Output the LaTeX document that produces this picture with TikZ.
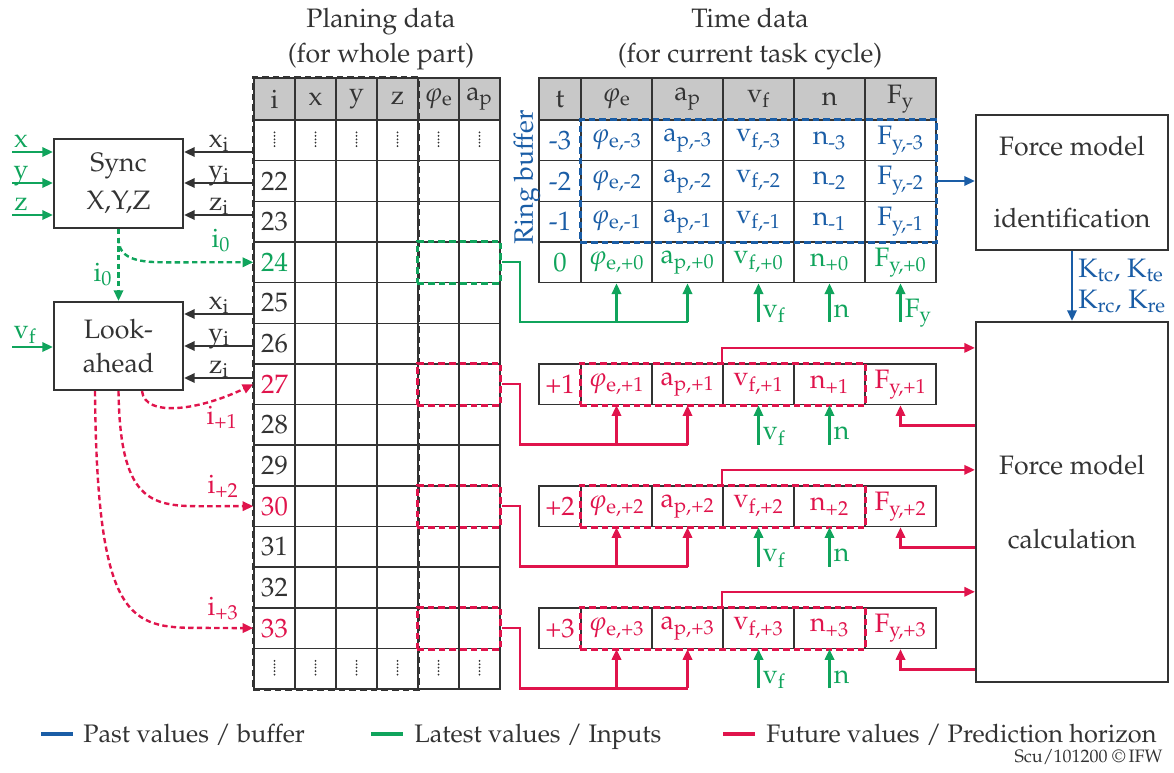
\documentclass[tikz,border=0pt]{standalone}
\usepackage[T1]{fontenc}
\usepackage{mathpazo}
\usepackage{amsmath}
\usetikzlibrary{arrows.meta,fit}

\definecolor{pblue}{HTML}{1A5DA6}
\definecolor{pgreen}{HTML}{10A45C}
\definecolor{pred}{HTML}{E0144C}
\definecolor{ink}{HTML}{333333}
\definecolor{headgray}{HTML}{C8C8C8}

\def\pxu{0.75pt}
% symbol with an upright text subscript
\newcommand\sx[2]{#1$_{\textrm{#2}}$}

\begin{document}
\begin{tikzpicture}[x=0.75pt,y=-0.75pt,color=ink,
  font=\fontsize{20}{26}\selectfont,
  cell/.style={draw=ink, line width=1.1pt, inner sep=0pt, minimum height={40.65*\pxu}},
  narrow/.style={cell, minimum width={41*\pxu}},
  wide/.style={cell, minimum width={71*\pxu}},
  tcol/.style={cell, minimum width={42*\pxu}},
  head/.style={fill=headgray, minimum height={42*\pxu}},
  frame/.style={draw=#1, line width=2.2pt, dash pattern=on 5pt off 3pt, inner sep=0pt},
  block/.style={draw=ink, line width=1.6pt, inner sep=0pt, align=center},
  tip/.style={-{Triangle[length=8pt,width=7pt]}},
  wire/.style={line width=1.8pt},
  dashline/.style={dash pattern=on 4pt off 2.5pt},
  dotcol/.style={line width=1.5pt, line cap=round, dash pattern=on 0pt off 2.6pt},
  lbl/.style={anchor=base, inner sep=0pt},
]
\useasboundingbox (0,0) rectangle (1174,772);

% ---------------- Planing data table ----------------
\node[align=center] (ptitle) at (381,39) {Planing data\\(for whole part)};
\foreach \c/\t in {1/i,2/x,3/y,4/z,5/{\sx{$\varphi$}{e}},6/{\sx{a}{p}}}
  \node[narrow, head] (P-0-\c) at ({254+41*(\c-0.5)},99) {\t};
% continuation rows (vertical ellipsis drawn as a dotted stroke)
\foreach \r in {1,14}
  \foreach \c in {1,...,6}{
    \node[narrow] (P-\r-\c) at ({254+41*(\c-0.5)},{120+40.65*(\r-0.5)}) {};
    \draw[dotcol] (P-\r-\c.center) ++(0,-8) -- ++(0,17);
  }
\foreach \r/\n/\col in {2/22/ink,3/23/ink,4/24/pgreen,5/25/ink,6/26/ink,7/27/pred,
                        8/28/ink,9/29/ink,10/30/pred,11/31/ink,12/32/ink,13/33/pred}{
  \node[narrow, text=\col] (P-\r-1) at (274.5,{120+40.65*(\r-0.5)}) {\n};
  \foreach \c in {2,...,6}
    \node[narrow] (P-\r-\c) at ({254+41*(\c-0.5)},{120+40.65*(\r-0.5)}) {};
}

% ---------------- Time data table ----------------
\node[align=center] (ttitle) at (750,39) {Time data\\(for current task cycle)};
\node[tcol, head] (T-0-1) at (560,99) {t};
\foreach \c/\t in {2/{\sx{$\varphi$}{e}},3/{\sx{a}{p}},4/{\sx{v}{f}},5/n,6/{\sx{F}{y}}}
  \node[wide, head] (T-0-\c) at ({616.5+71*(\c-2)},99) {\t};
\foreach \r/\l/\s/\col in {1/-3/-3/pblue,2/-2/-2/pblue,3/-1/-1/pblue,4/0/+0/pgreen}{
  \pgfmathsetmacro\yy{120+40.65*(\r-0.5)}
  \node[tcol, text=\col] (T-\r-1) at (560,\yy) {\l};
  \node[wide, text=\col] (T-\r-2) at (616.5,\yy) {\sx{$\varphi$}{e,\s}};
  \node[wide, text=\col] (T-\r-3) at (687.5,\yy) {\sx{a}{p,\s}};
  \node[wide, text=\col] (T-\r-4) at (758.5,\yy) {\sx{v}{f,\s}};
  \node[wide, text=\col] (T-\r-5) at (829.5,\yy) {\sx{n}{\s}};
  \node[wide, text=\col] (T-\r-6) at (900.5,\yy) {\sx{F}{y,\s}};
}
\node[pblue, rotate=90] (ringlabel) at (527,177) {Ring buffer};

% predicted rows
\foreach \k/\r in {1/7,2/10,3/13}{
  \pgfmathsetmacro\yy{120+40.65*(\r-0.5)}
  \node[tcol, text=pred] (F\k-1) at (560,\yy) {+\k};
  \node[wide, text=pred] (F\k-2) at (616.5,\yy) {\sx{$\varphi$}{e,+\k}};
  \node[wide, text=pred] (F\k-3) at (687.5,\yy) {\sx{a}{p,+\k}};
  \node[wide, text=pred] (F\k-4) at (758.5,\yy) {\sx{v}{f,+\k}};
  \node[wide, text=pred] (F\k-5) at (829.5,\yy) {\sx{n}{+\k}};
  \node[wide, text=pred] (F\k-6) at (900.5,\yy) {\sx{F}{y,+\k}};
}

% ---------------- dashed groupings ----------------
\node[fit=(P-0-1)(P-14-4), frame=ink] (pframe) {};
\node[fit=(T-1-2)(T-3-6), frame=pblue] (ring) {};
\node[fit=(P-4-5)(P-4-6), frame=pgreen] (g24) {};
\foreach \k/\r in {1/7,2/10,3/13}{
  \node[fit=(P-\r-5)(P-\r-6), frame=pred] (pr\k) {};
  \node[fit=(F\k-2)(F\k-5), frame=pred] (fr\k) {};
}

% ---------------- blocks ----------------
\node[block, minimum width={129*\pxu}, minimum height={89*\pxu}] (sync) at (118.5,183.5) {Sync\\[2pt]X,Y,Z};
\node[block, minimum width={129*\pxu}, minimum height={88*\pxu}] (look) at (118.5,346) {Look-\\ahead};
\node[block, minimum width={192*\pxu}, minimum height={135*\pxu}] (ident) at (1072,182.5) {Force model\\[28pt]identification};
\node[block, minimum width={192*\pxu}, minimum height={360*\pxu}] (calc) at (1072,502) {Force model\\[29pt]calculation};

% ---------------- synchronisation inputs ----------------
\foreach \v/\yy in {x/152,y/183,z/215}{
  \coordinate (in-\v) at (12,\yy);
  \draw[wire, pgreen, tip] (in-\v) -- (in-\v -| sync.west);
  \node[lbl, pgreen] (lab-\v) at (21,\yy-5) {\v};
  \draw[wire, tip] (P-1-1.west |- in-\v) -- (in-\v -| sync.east);
  \node[lbl] (labi-\v) at (219,\yy-5) {\sx{\v}{i}};
}
\foreach \v/\yy in {x/314,y/346,z/378}{
  \coordinate (la-\v) at (183,\yy);
  \draw[wire, tip] (P-1-1.west |- la-\v) -- (la-\v -| look.east);
  \node[lbl] (labl-\v) at (219,\yy-5) {\sx{\v}{i}};
}
\coordinate (in-vf) at (12,347);
\draw[wire, pgreen, tip] (in-vf) -- (in-vf -| look.west);
\node[lbl, pgreen] (lab-vf) at (25,338) {\sx{v}{f}};

% current index
\draw[wire, pgreen, dashline, tip] (sync.south) -- (look.north);
\node[lbl, pgreen] (lab-i0a) at (103,281) {\sx{i}{0}};
\coordinate (i0split) at (118.5,238);
\draw[wire, pgreen, dashline, tip] (i0split) .. controls (118.5,258) and (135,262.3) .. (165,262.3) -- (P-4-1.west);
\node[lbl, pgreen] (lab-i0b) at (221,247) {\sx{i}{0}};

% look-ahead indices
\draw[wire, pred, dashline, tip] (look.south -| 142,0) .. controls (145,418) and (200,410) .. (P-7-1.west);
\node[lbl, pred] (lab-i1) at (222,424) {\sx{i}{+1}};
\draw[wire, pred, dashline, tip] (look.south -| 118.5,0) .. controls (120,500) and (150,506.2) .. (200,506.2) -- (P-10-1.west);
\node[lbl, pred] (lab-i2) at (223,493) {\sx{i}{+2}};
\draw[wire, pred, dashline, tip] (look.south -| 95,0) .. controls (97,622) and (130,627.9) .. (200,627.9) -- (P-13-1.west);
\node[lbl, pred] (lab-i3) at (223,615) {\sx{i}{+3}};

% ---------------- latest values into row 0 ----------------
\coordinate (bus0) at (0,322);
\draw[wire, pgreen] (g24.east) -- ++(18,0) |- (T-4-3.south |- bus0);
\draw[wire, pgreen, tip] (T-4-2.south |- bus0) -- (T-4-2.south);
\draw[wire, pgreen, tip] (T-4-3.south |- bus0) -- (T-4-3.south);
\foreach \c/\t in {4/{\sx{v}{f}},5/n,6/{\sx{F}{y}}}{
  \draw[wire, pgreen, tip] (T-4-\c.south |- bus0) -- (T-4-\c.south);
  \path (T-4-\c.south |- bus0) ++(4,-5) node[anchor=base west, inner sep=0pt, pgreen] (in0-\c) {\t};
}

% ---------------- predicted rows ----------------
\foreach \k/\r in {1/7,2/10,3/13}{
  \pgfmathsetmacro\yb{120+40.65*\r}
  \pgfmathsetmacro\yt{120+40.65*(\r-1)}
  \coordinate (bus\k) at (0,\yb+40);
  \coordinate (ret\k) at (0,\yb+21);
  \coordinate (top\k) at (0,\yt-16);
  \draw[wire, pred] (pr\k.east) -- ++(18,0) |- (F\k-3.south |- bus\k);
  \draw[wire, pred, tip] (F\k-2.south |- bus\k) -- (F\k-2.south);
  \draw[wire, pred, tip] (F\k-3.south |- bus\k) -- (F\k-3.south);
  \draw[wire, pgreen, tip] (F\k-4.south |- bus\k) -- (F\k-4.south);
  \draw[wire, pgreen, tip] (F\k-5.south |- bus\k) -- (F\k-5.south);
  \path (F\k-4.south |- bus\k) ++(4,-5) node[anchor=base west, inner sep=0pt, pgreen] (inv\k) {\sx{v}{f}};
  \path (F\k-5.south |- bus\k) ++(4,-5) node[anchor=base west, inner sep=0pt, pgreen] (inn\k) {n};
  \draw[wire, pred, tip] (F\k-4.north west) |- (top\k -| calc.west);
  \draw[wire, pred, tip] (ret\k -| calc.west) -| (F\k-6.south);
}

% ---------------- force model ----------------
\draw[wire, pblue, tip] (ring.east) -- (ring.east -| ident.west);
\draw[wire, pblue, tip] (ident.south) -- (calc.north);
\node[anchor=base west, inner sep=0pt, pblue] (k1) at (1078,277) {K$_{\textrm{tc}}$, K$_{\textrm{te}}$};
\node[anchor=base west, inner sep=0pt, pblue] (k2) at (1078,308) {K$_{\textrm{rc}}$, K$_{\textrm{re}}$};

% ---------------- legend ----------------
\begin{scope}[font=\fontsize{19}{24}\selectfont]
\draw[pblue, line width=2.4pt] (41,734) -- (73,734);
\node[anchor=base west, inner sep=0pt] (leg1) at (83,742) {Past values / buffer};
\draw[pgreen, line width=2.4pt] (371,734) -- (403,734);
\node[anchor=base west, inner sep=0pt] (leg2) at (414,742) {Latest values / Inputs};
\draw[pred, line width=2.4pt] (723,734) -- (755,734);
\node[anchor=base west, inner sep=0pt] (leg3) at (766,742) {Future values / Prediction horizon};
\end{scope}
\node[anchor=base east, inner sep=0pt, font=\fontsize{13.5}{16}\selectfont] (credit) at (1163,762) {Scu/101200 \textcopyright\,IFW};
\end{tikzpicture}
\end{document}
